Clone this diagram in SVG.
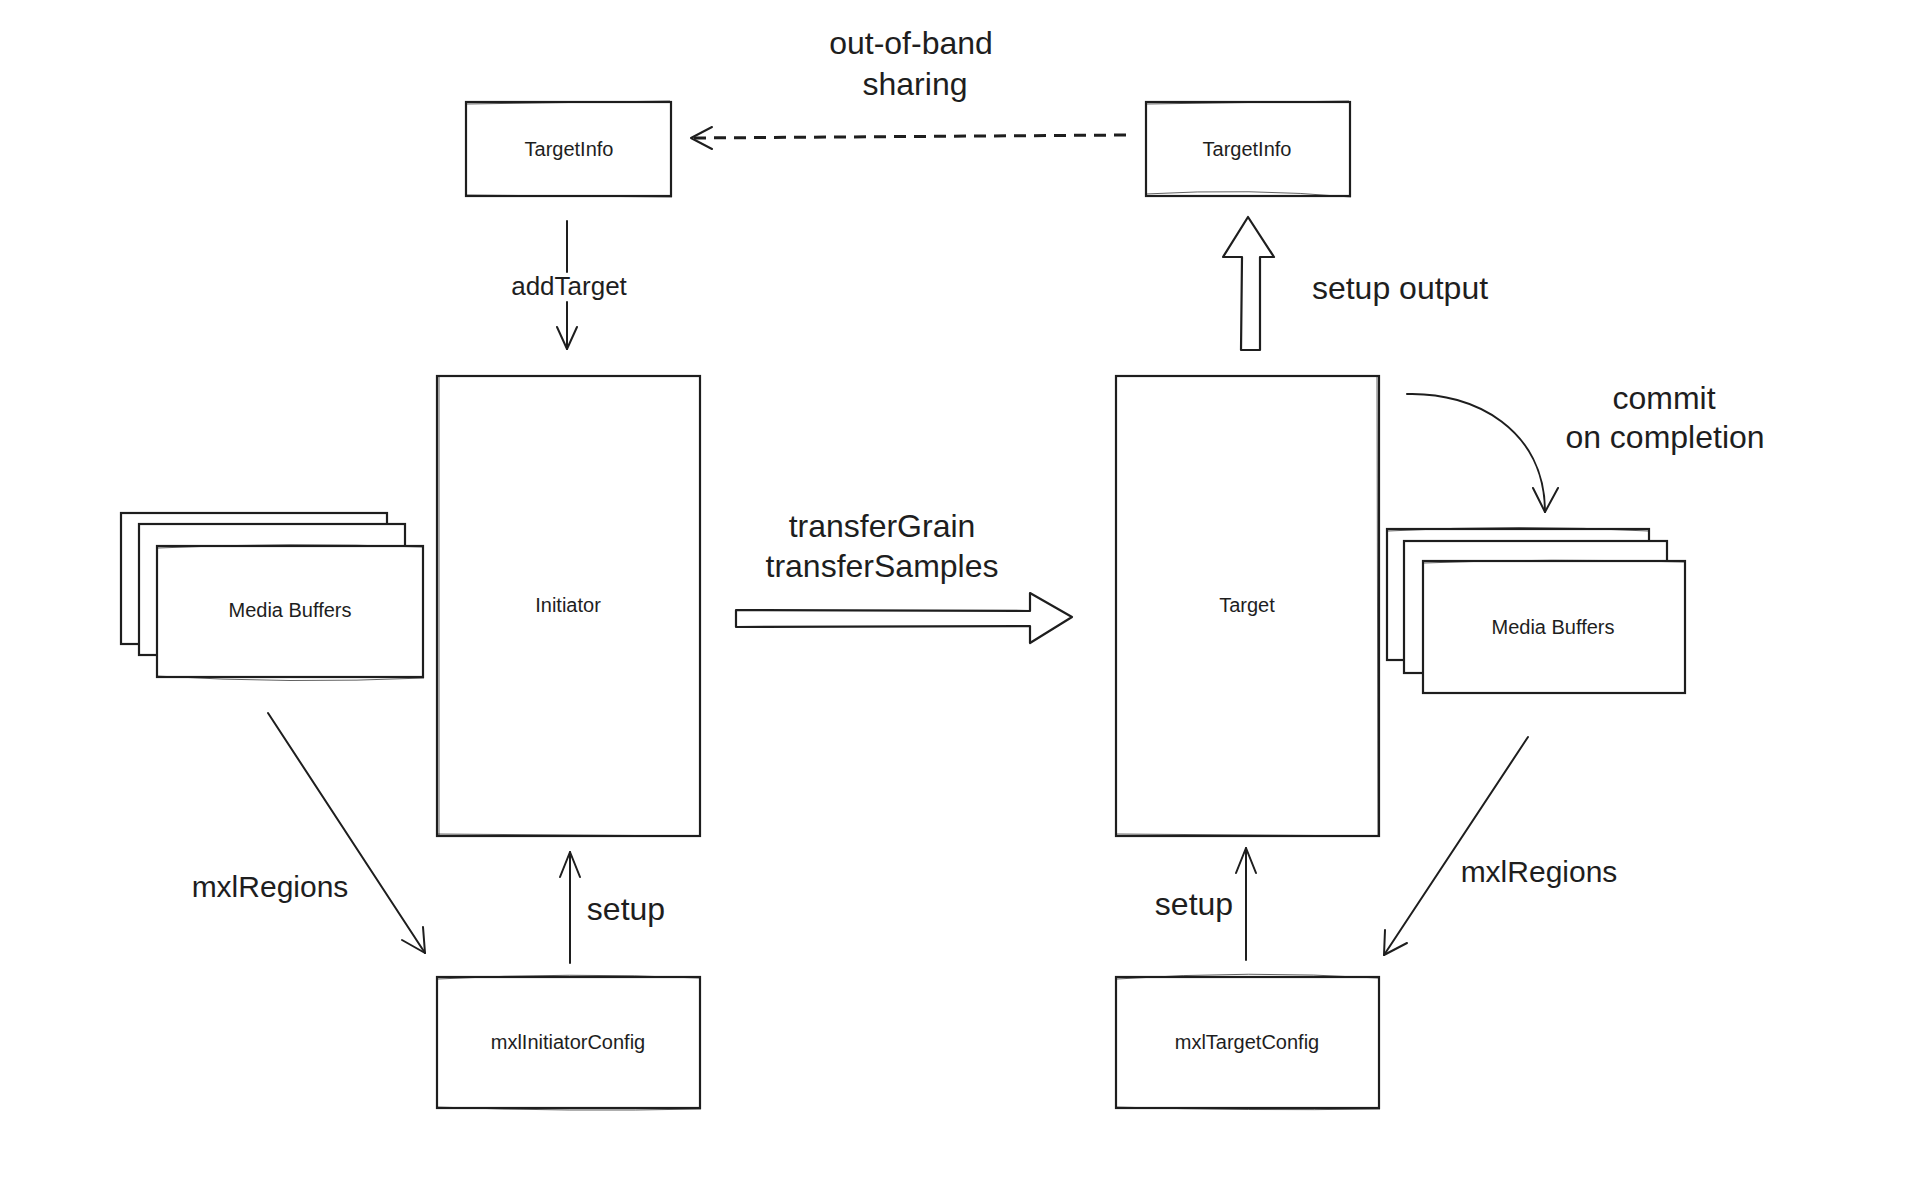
<svg xmlns="http://www.w3.org/2000/svg" width="1919" height="1180" viewBox="0 0 1919 1180">
<style>
.box{fill:#fff;stroke:#1e1e1e;stroke-width:2.2}
.sk{fill:none;stroke:#1e1e1e;stroke-width:1;opacity:.7}
.ln{fill:none;stroke:#1e1e1e;stroke-width:2;stroke-linecap:round;stroke-linejoin:round}
.fat{fill:#fff;stroke:#1e1e1e;stroke-width:2.2;stroke-linejoin:round}
.dash{fill:none;stroke:#1e1e1e;stroke-width:3;stroke-dasharray:12 8}
.t{font-family:"Liberation Sans",Arial,sans-serif;fill:#1e1e1e;text-anchor:middle}
.s{font-size:20px}
.b{font-size:32px}
</style>
<rect width="1919" height="1180" fill="#fff"/>

<g id="targetinfo-left">
<rect class="box" x="466" y="102" width="205" height="94"/>
<path class="sk" d="M467,104 L670,101 M465,195 L672,197"/>
<text class="t s" x="569" y="156">TargetInfo</text>
</g>
<g id="targetinfo-right">
<rect class="box" x="1146" y="102" width="204" height="94"/>
<path class="sk" d="M1147,104 L1349,101 M1145,194 Q1250,188 1351,197"/>
<text class="t s" x="1247" y="156">TargetInfo</text>
</g>
<g id="initiator">
<rect class="box" x="437" y="376" width="263" height="460"/>
<path class="sk" d="M439,377 L439,835 M436,834 L701,836"/>
<text class="t s" x="568" y="612">Initiator</text>
</g>
<g id="target">
<rect class="box" x="1116" y="376" width="263" height="460"/>
<path class="sk" d="M1377,377 L1378,835 M1117,834 L1380,836"/>
<text class="t s" x="1247" y="612">Target</text>
</g>
<g id="media-buffers-left">
<rect class="box" x="121" y="513" width="266" height="131"/>
<rect class="box" x="139" y="524" width="266" height="131"/>
<rect class="box" x="157" y="546" width="266" height="131"/>
<path class="sk" d="M158,548 Q290,542 422,547 M156,676 Q290,684 424,678"/>
<text class="t s" x="290" y="617">Media Buffers</text>
</g>
<g id="media-buffers-right">
<rect class="box" x="1387" y="529" width="262" height="131"/>
<rect class="box" x="1404" y="541" width="263" height="132"/>
<rect class="box" x="1423" y="561" width="262" height="132"/>
<path class="sk" d="M1388,531 Q1520,524 1648,531 M1424,563 Q1550,558 1684,562"/>
<text class="t s" x="1553" y="634">Media Buffers</text>
</g>
<g id="mxl-initiator-config">
<rect class="box" x="437" y="977" width="263" height="131"/>
<path class="sk" d="M438,979 Q570,972 699,978 M436,1107 Q570,1112 701,1109"/>
<text class="t s" x="568" y="1049">mxlInitiatorConfig</text>
</g>
<g id="mxl-target-config">
<rect class="box" x="1116" y="977" width="263" height="131"/>
<path class="sk" d="M1117,979 Q1250,970 1378,978 M1115,1107 Q1250,1111 1380,1109"/>
<text class="t s" x="1247" y="1049">mxlTargetConfig</text>
</g>

<g id="connectors">
<!-- out-of-band sharing -->
<path class="dash" d="M1126,135 L693,138"/>
<path class="ln" d="M712,127 L691,138 L712,149"/>
<text class="t b" x="911" y="54">out-of-band</text>
<text class="t b" x="915" y="95">sharing</text>
<!-- addTarget -->
<path class="ln" d="M567,221 L567,272 M567,302 L567,349"/>
<path class="ln" d="M557,327 L567,349 L577,327"/>
<text class="t" style="font-size:26px" x="569" y="295">addTarget</text>
<!-- setup output -->
<path class="fat" d="M1241,350 L1242,257 L1223,257 L1248,217 L1274,257 L1260,257 L1260,350 Z"/>
<text class="t b" x="1400" y="299">setup output</text>
<!-- commit on completion -->
<path class="ln" d="M1407,394 C1475,392 1545,430 1545,512"/>
<path class="ln" d="M1533,488 L1545,512 L1558,488"/>
<text class="t b" x="1664" y="409">commit</text>
<text class="t b" x="1665" y="448">on completion</text>
<!-- transfer -->
<path class="fat" d="M736,610 L1030,611 L1030,593 L1072,617 L1030,643 L1030,626 L736,627 Z"/>
<text class="t b" x="882" y="537">transferGrain</text>
<text class="t b" x="882" y="577">transferSamples</text>
<!-- mxlRegions left -->
<path class="ln" d="M268,713 L425,953"/>
<path class="ln" d="M402,940 L425,953 L423,927"/>
<text class="t" style="font-size:30px" x="270" y="897">mxlRegions</text>
<!-- setup left -->
<path class="ln" d="M570,963 L570,852"/>
<path class="ln" d="M560,877 L570,852 L580,877"/>
<text class="t b" x="626" y="920">setup</text>
<!-- setup right -->
<path class="ln" d="M1246,960 L1246,848"/>
<path class="ln" d="M1236,873 L1246,848 L1256,873"/>
<text class="t b" x="1194" y="915">setup</text>
<!-- mxlRegions right -->
<path class="ln" d="M1528,737 L1384,955"/>
<path class="ln" d="M1385,930 L1384,955 L1407,943"/>
<text class="t" style="font-size:30px" x="1539" y="882">mxlRegions</text>
</g>
</svg>
